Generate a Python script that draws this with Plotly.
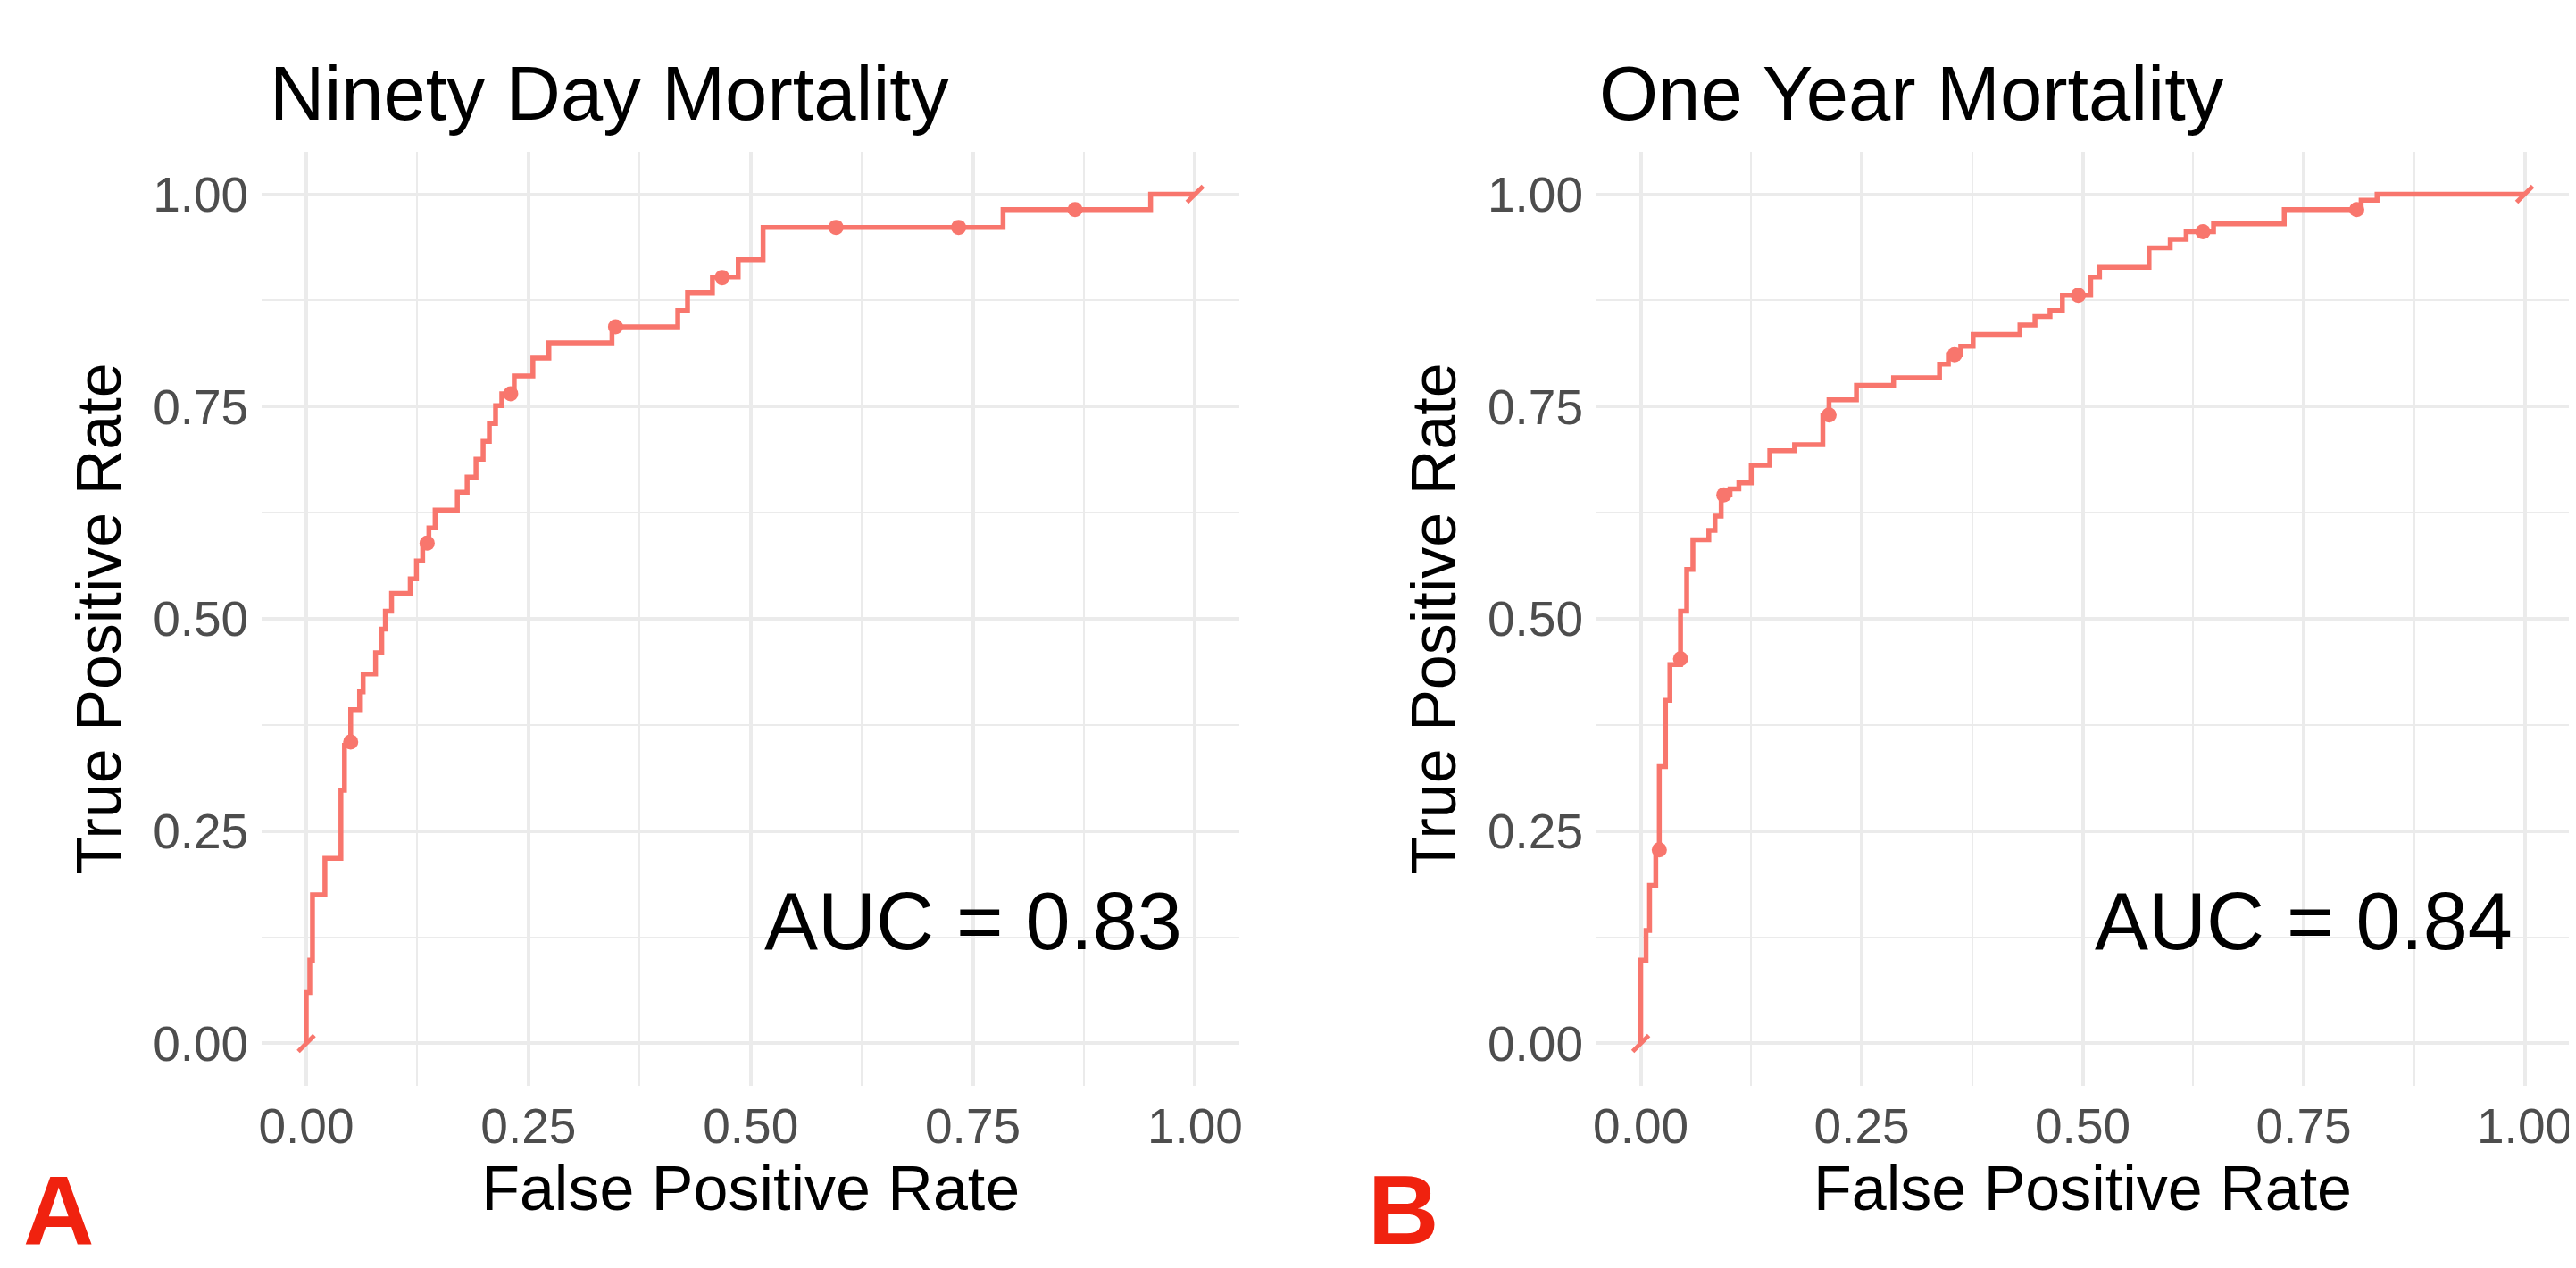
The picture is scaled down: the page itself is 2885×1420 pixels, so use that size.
import plotly.graph_objects as go

# ---------------- data ----------------
ticks = [0, 0.25, 0.5, 0.75, 1.0]
tick_labels = ["0.00", "0.25", "0.50", "0.75", "1.00"]
minor_ticks = [0.125, 0.375, 0.625, 0.875]

panel_titles = ["Ninety Day Mortality", "One Year Mortality"]
auc_labels = ["AUC = 0.83", "AUC = 0.84"]
panel_letters = ["A", "B"]

# Panel A: ROC step path (false positive rate, true positive rate)
fpr_a = [0, 0, 0.004, 0.004, 0.007, 0.007, 0.021, 0.021, 0.039, 0.039, 0.043, 0.043,
         0.05, 0.05, 0.06, 0.06, 0.064, 0.064, 0.078, 0.078, 0.085, 0.085, 0.089, 0.089,
         0.096, 0.096, 0.117, 0.117, 0.124, 0.124, 0.131, 0.131, 0.138, 0.138, 0.145, 0.145,
         0.17, 0.17, 0.181, 0.181, 0.191, 0.191, 0.199, 0.199, 0.206, 0.206, 0.213, 0.213,
         0.22, 0.22, 0.234, 0.234, 0.255, 0.255, 0.273, 0.273, 0.344, 0.344, 0.418, 0.418,
         0.429, 0.429, 0.457, 0.457, 0.486, 0.486, 0.514, 0.514, 0.784, 0.784, 0.95, 0.95, 1.0]
tpr_a = [0, 0.06, 0.06, 0.098, 0.098, 0.175, 0.175, 0.218, 0.218, 0.298, 0.298, 0.351,
         0.351, 0.393, 0.393, 0.414, 0.414, 0.435, 0.435, 0.46, 0.46, 0.488, 0.488, 0.509,
         0.509, 0.53, 0.53, 0.547, 0.547, 0.568, 0.568, 0.589, 0.589, 0.607, 0.607, 0.628,
         0.628, 0.649, 0.649, 0.667, 0.667, 0.688, 0.688, 0.709, 0.709, 0.73, 0.73, 0.751,
         0.751, 0.765, 0.765, 0.786, 0.786, 0.807, 0.807, 0.825, 0.825, 0.844, 0.844, 0.863,
         0.863, 0.884, 0.884, 0.902, 0.902, 0.923, 0.923, 0.961, 0.961, 0.982, 0.982, 1.0, 1.0]
cut_fpr_a = [0.05, 0.136, 0.23, 0.348, 0.468, 0.596, 0.734, 0.865]
cut_tpr_a = [0.355, 0.589, 0.765, 0.844, 0.902, 0.961, 0.961, 0.982]

# Panel B
fpr_b = [0, 0, 0.006, 0.006, 0.010, 0.010, 0.017, 0.017, 0.021, 0.021, 0.028, 0.028,
         0.033, 0.033, 0.045, 0.045, 0.052, 0.052, 0.059, 0.059, 0.077, 0.077, 0.084, 0.084,
         0.091, 0.091, 0.101, 0.101, 0.111, 0.111, 0.125, 0.125, 0.146, 0.146, 0.174, 0.174,
         0.206, 0.206, 0.213, 0.213, 0.244, 0.244, 0.286, 0.286, 0.338, 0.338, 0.348, 0.348,
         0.362, 0.362, 0.376, 0.376, 0.429, 0.429, 0.446, 0.446, 0.463, 0.463, 0.477, 0.477,
         0.509, 0.509, 0.519, 0.519, 0.575, 0.575, 0.599, 0.599, 0.617, 0.617, 0.648, 0.648,
         0.728, 0.728, 0.815, 0.815, 0.833, 0.833, 1.0]
tpr_b = [0, 0.098, 0.098, 0.133, 0.133, 0.186, 0.186, 0.228, 0.228, 0.326, 0.326, 0.404,
         0.404, 0.446, 0.446, 0.509, 0.509, 0.558, 0.558, 0.593, 0.593, 0.604, 0.604, 0.621,
         0.621, 0.646, 0.646, 0.653, 0.653, 0.66, 0.66, 0.681, 0.681, 0.698, 0.698, 0.705,
         0.705, 0.74, 0.74, 0.758, 0.758, 0.775, 0.775, 0.784, 0.784, 0.8, 0.8, 0.811,
         0.811, 0.821, 0.821, 0.835, 0.835, 0.846, 0.846, 0.856, 0.856, 0.863, 0.863, 0.881,
         0.881, 0.902, 0.902, 0.914, 0.914, 0.937, 0.937, 0.947, 0.947, 0.956, 0.956, 0.965,
         0.965, 0.982, 0.982, 0.993, 0.993, 1.0, 1.0]
cut_fpr_b = [0.021, 0.045, 0.094, 0.213, 0.355, 0.495, 0.636, 0.81]
cut_tpr_b = [0.228, 0.453, 0.646, 0.74, 0.811, 0.881, 0.956, 0.982]

end_fpr = [0, 1]
end_tpr = [0, 1]

# ---------------- styling ----------------
W, H = 2885, 1420
RED = "#F8766D"
FONT = "Liberation Sans, Arial, Helvetica, sans-serif"
GRID = "#EBEBEB"

fig = go.Figure()
panels = [
    (fpr_a, tpr_a, cut_fpr_a, cut_tpr_a, "x", "y"),
    (fpr_b, tpr_b, cut_fpr_b, cut_tpr_b, "x2", "y2"),
]
for fx, ty, cx, cy, xa, ya in panels:
    fig.add_trace(go.Scatter(x=fx, y=ty, mode="lines", xaxis=xa, yaxis=ya,
                             line=dict(color=RED, width=5.5), showlegend=False,
                             hoverinfo="skip"))
    fig.add_trace(go.Scatter(x=cx, y=cy, mode="markers", xaxis=xa, yaxis=ya,
                             marker=dict(color=RED, size=17), showlegend=False))
    fig.add_trace(go.Scatter(x=end_fpr, y=end_tpr, mode="markers", xaxis=xa, yaxis=ya,
                             marker=dict(symbol="line-ne", size=18,
                                         line=dict(color=RED, width=5)),
                             showlegend=False))

Y_TOP, Y_BOT = 162, 1208


def xax(domain):
    return dict(domain=domain, range=[-0.05, 1.05], tickvals=ticks, ticktext=tick_labels,
                showgrid=True, gridcolor=GRID, gridwidth=3.5, zeroline=False,
                showline=False, ticks="", ticklabelstandoff=8, ticklabeloverflow="allow",
                tickfont=dict(family=FONT, size=55, color="#4D4D4D"),
                minor=dict(tickvals=minor_ticks, showgrid=True, gridcolor=GRID,
                           gridwidth=1.8, ticks=""),
                title=dict(text="False Positive Rate", standoff=2,
                           font=dict(family=FONT, size=70, color="black")),
                fixedrange=True)


def yax(anchor):
    return dict(domain=[1 - Y_BOT / H, 1 - Y_TOP / H], range=[-0.05, 1.05], anchor=anchor,
                tickvals=ticks, ticktext=tick_labels,
                showgrid=True, gridcolor=GRID, gridwidth=3.5, zeroline=False,
                showline=False, ticks="", ticklabelstandoff=14,
                tickfont=dict(family=FONT, size=55, color="#4D4D4D"),
                minor=dict(tickvals=minor_ticks, showgrid=True, gridcolor=GRID,
                           gridwidth=1.8, ticks=""),
                title=dict(text="True Positive Rate", standoff=12,
                           font=dict(family=FONT, size=70, color="black")),
                fixedrange=True)


xa_dom = [282 / W, 1380 / W]
xb_dom = [1781 / W, 2873 / W]

fig.update_layout(
    width=W, height=H,
    margin=dict(l=0, r=0, t=0, b=0),
    paper_bgcolor="white", plot_bgcolor="white",
    font=dict(family=FONT),
    xaxis=dict(xax(xa_dom), anchor="y"),
    yaxis=yax("x"),
    xaxis2=dict(xax(xb_dom), anchor="y2"),
    yaxis2=yax("x2"),
)

annotations = []
title_x = [289 / W, 1782 / W]
for i in range(2):
    annotations.append(dict(text=panel_titles[i], xref="paper", yref="paper",
                            x=title_x[i], y=1 - 96 / H, xanchor="left", yanchor="middle",
                            showarrow=False,
                            font=dict(family=FONT, size=85, color="black")))
    annotations.append(dict(text=auc_labels[i], xref=("x" if i == 0 else "x2"),
                            yref=("y" if i == 0 else "y2"), x=0.75, y=0.143,
                            xanchor="center", yanchor="middle", showarrow=False,
                            font=dict(family=FONT, size=90, color="black")))
letter_x = [12 / W, 1522 / W]
for i in range(2):
    annotations.append(dict(text="<b>%s</b>" % panel_letters[i], xref="paper", yref="paper",
                            x=letter_x[i], y=0, xanchor="left", yanchor="bottom",
                            yshift=10, showarrow=False,
                            font=dict(family=FONT, size=110, color="#F0220F")))
fig.update_layout(annotations=annotations)

fig.write_html("out.html", config=dict(displayModeBar=False))
